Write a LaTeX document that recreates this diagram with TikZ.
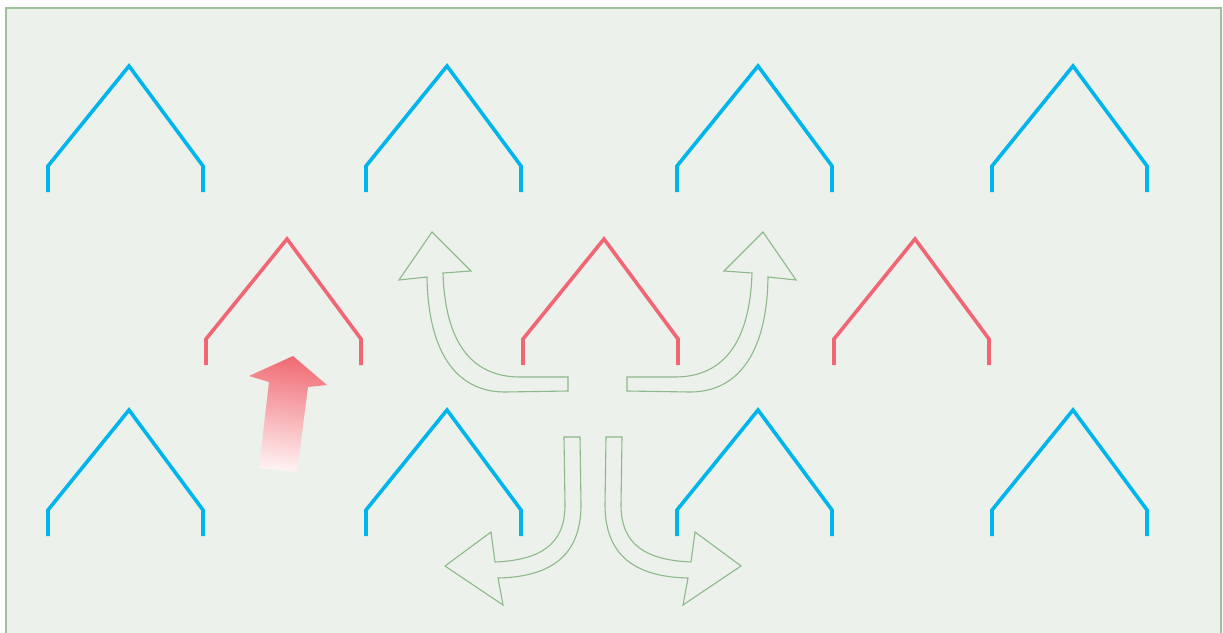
\documentclass[tikz,border=0pt]{standalone}
\usetikzlibrary{shadings}
\definecolor{bgc}{HTML}{ECF1EB}
\definecolor{frame}{HTML}{9DC09B}
\definecolor{roofblue}{HTML}{00B4EC}
\definecolor{roofred}{HTML}{F06672}
\definecolor{arrgreen}{HTML}{8DB98B}
\definecolor{arrred}{HTML}{F06C74}
\definecolor{arrpale}{HTML}{FFF2F2}
\tikzset{
  roofline/.style={line width=3.6pt, line join=miter},
  blueroof/.style={roofline, draw=roofblue},
  redroof/.style={roofline, draw=roofred},
  hollowarrow/.style={draw=arrgreen, fill=bgc, line width=1.1pt, line join=miter},
  roof/.pic={\draw[pic actions] (-81,126) -- (-81,100) -- (0,0) -- (74,100) -- (74,126);}
}
\begin{document}
\begin{tikzpicture}[x=1pt,y=-1pt]
\useasboundingbox (0,0) rectangle (1223,632);
\fill[white] (0,0) rectangle (1223,632);
\fill[bgc] (6,8) rectangle (1221,645);
\draw[frame, line width=1.6pt] (6,645) -- (6,8) -- (1221,8) -- (1221,645);
% top row
\foreach \x in {129,447,758,1073} \pic[blueroof] at (\x,66) {roof};
% middle row
\foreach \x in {287,604,915} \pic[redroof] at (\x,239) {roof};
% bottom row
\foreach \x in {129,447,758,1073} \pic[blueroof] at (\x,410) {roof};
% red shaded arrow
\shade[top color=arrred, bottom color=arrpale, shading angle=-7]
  (293,356) -- (327,385) -- (308,387) -- (297,472) -- (259,468) -- (269,382) -- (249,376) -- cycle;
% upper-left hollow arrow
\draw[hollowarrow] (568,377) -- (568,391) -- (505,392)
  .. controls (455,392) and (428,350) .. (427,277) -- (399,280) -- (432,232) -- (471,271) -- (443,273)
  .. controls (445,340) and (470,377) .. (520,377) -- cycle;
% upper-right hollow arrow (mirror)
\begin{scope}[xshift=1195pt, xscale=-1]
\draw[hollowarrow] (568,377) -- (568,391) -- (505,392)
  .. controls (455,392) and (428,350) .. (427,277) -- (399,280) -- (432,232) -- (471,271) -- (443,273)
  .. controls (445,340) and (470,377) .. (520,377) -- cycle;
\end{scope}
% lower-left hollow arrow
\draw[hollowarrow] (564,437) -- (580,437) -- (581,505)
  .. controls (581,560) and (545,577) .. (498,578) -- (503,605) -- (445,566) -- (491,532) -- (495,562)
  .. controls (540,560) and (565,545) .. (565,505) -- cycle;
% lower-right hollow arrow (mirror)
\begin{scope}[xshift=1186pt, xscale=-1]
\draw[hollowarrow] (564,437) -- (580,437) -- (581,505)
  .. controls (581,560) and (545,577) .. (498,578) -- (503,605) -- (445,566) -- (491,532) -- (495,562)
  .. controls (540,560) and (565,545) .. (565,505) -- cycle;
\end{scope}
\end{tikzpicture}
\end{document}
